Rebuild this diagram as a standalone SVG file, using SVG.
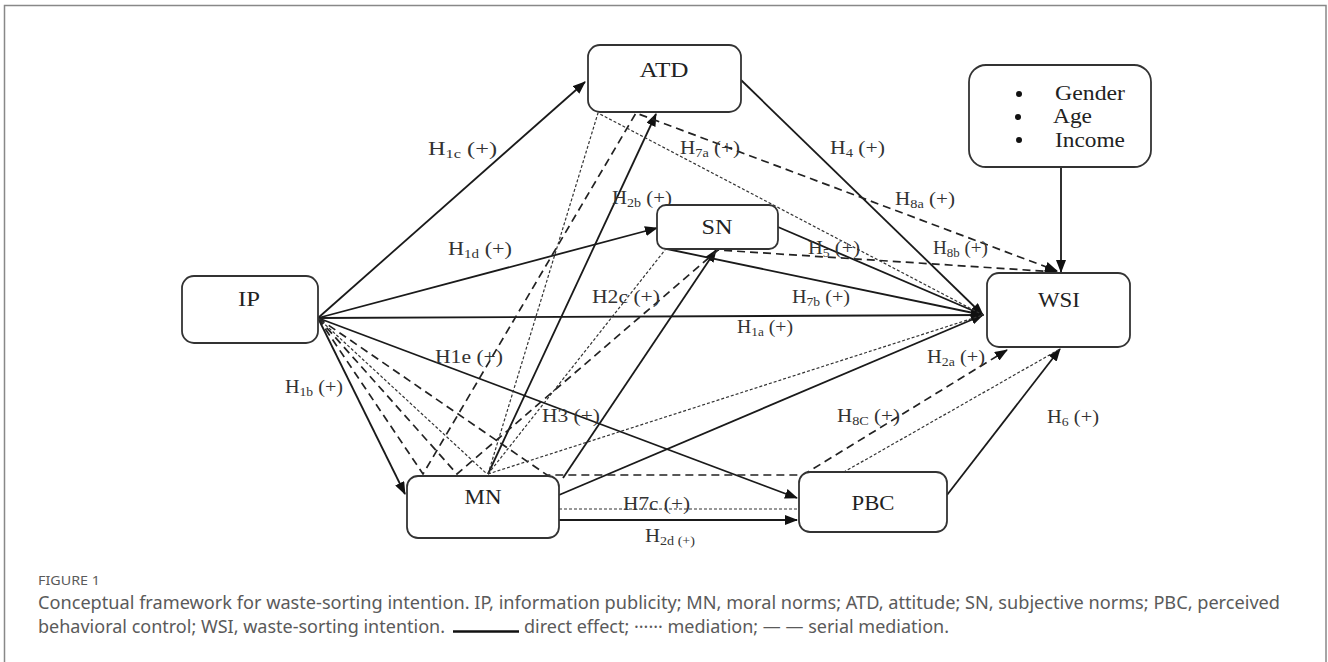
<svg xmlns="http://www.w3.org/2000/svg" width="1328" height="662" viewBox="0 0 1328 662">
<defs>
<marker id="ah" markerUnits="userSpaceOnUse" markerWidth="13" markerHeight="10" refX="12" refY="5" orient="auto">
<path d="M0,0 L13,5 L0,10 z" fill="#111"/>
</marker>
<style>
.frame{fill:#fff;stroke:#888;stroke-width:1.5}
.box{fill:#fff;stroke:#333;stroke-width:1.8}
.nt{font-family:"Liberation Serif",serif;font-size:20px;fill:#222;text-anchor:middle}
.ct{font-family:"Liberation Serif",serif;font-size:20px;fill:#222}
.lbl{font-family:"Liberation Serif",serif;font-size:18.5px;fill:#333}
.sub{font-size:12.5px}
.solid{fill:none;stroke:#1a1a1a;stroke-width:1.8}
.dash{fill:none;stroke:#222;stroke-width:1.7;stroke-dasharray:8 5}
.dot{fill:none;stroke:#333;stroke-width:1.2;stroke-dasharray:3 2}
.cap{font-family:"Noto Sans",sans-serif;fill:#5a5a5a}
</style>
</defs>
<rect class="frame" x="4.5" y="5.5" width="1321.5" height="680"/>

<g id="connectors">
<path class="solid" d="M318,318 L585,82" marker-end="url(#ah)"/>
<path class="solid" d="M318,318 L657,228" marker-end="url(#ah)"/>
<path class="solid" d="M318,318 L983,315" marker-end="url(#ah)"/>
<path class="solid" d="M318,318 L405,494" marker-end="url(#ah)"/>
<path class="solid" d="M318,318 L797,498" marker-end="url(#ah)"/>
<path class="solid" d="M488,474 L656,114" marker-end="url(#ah)"/>
<path class="solid" d="M563,478 L716,250" marker-end="url(#ah)"/>
<path class="solid" d="M559,495 L983,315" marker-end="url(#ah)"/>
<path class="solid" d="M559,520 L797,520" marker-end="url(#ah)"/>
<path class="solid" d="M778,227 L983,315" marker-end="url(#ah)"/>
<path class="solid" d="M667,249 L983,315" marker-end="url(#ah)"/>
<path class="solid" d="M741,80 L983,315" marker-end="url(#ah)"/>
<path class="solid" d="M947,495 L1060,349" marker-end="url(#ah)"/>
<path class="solid" d="M1061,167 L1061,272" marker-end="url(#ah)"/>
<path class="dash" d="M318,318 L423,474 L636,113 L1057,271" marker-end="url(#ah)"/>
<path class="dash" d="M318,318 L457,474 L718,250 L1057,272" marker-end="url(#ah)"/>
<path class="dash" d="M318,318 L547,475 L803,475 L1007,350" marker-end="url(#ah)"/>
<path class="dot" d="M318,318 L487,474"/>
<path class="dot" d="M488,474 L598,113 L983,315"/>
<path class="dot" d="M488,474 L665,250"/>
<path class="dot" d="M488,474 L983,315"/>
<path class="dot" d="M559,509 L799,509"/>
<path class="dot" d="M800,497 L1060,349"/>
</g>

<g id="labels">
<text class="lbl" x="428" y="155" textLength="69" lengthAdjust="spacingAndGlyphs">H<tspan class="sub" dy="3">1c</tspan><tspan dy="-3"> (+)</tspan></text>
<text class="lbl" x="448" y="255" textLength="64" lengthAdjust="spacingAndGlyphs">H<tspan class="sub" dy="3">1d</tspan><tspan dy="-3"> (+)</tspan></text>
<text class="lbl" x="680" y="154" textLength="60" lengthAdjust="spacingAndGlyphs">H<tspan class="sub" dy="3">7a</tspan><tspan dy="-3"> (+)</tspan></text>
<text class="lbl" x="830" y="154" textLength="55" lengthAdjust="spacingAndGlyphs">H<tspan class="sub" dy="3">4</tspan><tspan dy="-3"> (+)</tspan></text>
<text class="lbl" x="895" y="205" textLength="60" lengthAdjust="spacingAndGlyphs">H<tspan class="sub" dy="3">8a</tspan><tspan dy="-3"> (+)</tspan></text>
<text class="lbl" x="612" y="204" textLength="60" lengthAdjust="spacingAndGlyphs">H<tspan class="sub" dy="3">2b</tspan><tspan dy="-3"> (+)</tspan></text>
<text class="lbl" x="808" y="254" textLength="52" lengthAdjust="spacingAndGlyphs">H<tspan class="sub" dy="3">5</tspan><tspan dy="-3"> (+)</tspan></text>
<text class="lbl" x="933" y="254" textLength="55" lengthAdjust="spacingAndGlyphs">H<tspan class="sub" dy="3">8b</tspan><tspan dy="-3"> (+)</tspan></text>
<text class="lbl" x="592" y="303" textLength="68" lengthAdjust="spacingAndGlyphs">H2c (+)</text>
<text class="lbl" x="792" y="303" textLength="58" lengthAdjust="spacingAndGlyphs">H<tspan class="sub" dy="3">7b</tspan><tspan dy="-3"> (+)</tspan></text>
<text class="lbl" x="737" y="333" textLength="56" lengthAdjust="spacingAndGlyphs">H<tspan class="sub" dy="3">1a</tspan><tspan dy="-3"> (+)</tspan></text>
<text class="lbl" x="927" y="363" textLength="58" lengthAdjust="spacingAndGlyphs">H<tspan class="sub" dy="3">2a</tspan><tspan dy="-3"> (+)</tspan></text>
<text class="lbl" x="435" y="363" textLength="68" lengthAdjust="spacingAndGlyphs">H1e (+)</text>
<text class="lbl" x="285" y="393" textLength="58" lengthAdjust="spacingAndGlyphs">H<tspan class="sub" dy="3">1b</tspan><tspan dy="-3"> (+)</tspan></text>
<text class="lbl" x="542" y="422" textLength="58" lengthAdjust="spacingAndGlyphs">H3 (+)</text>
<text class="lbl" x="837" y="422" textLength="63" lengthAdjust="spacingAndGlyphs">H<tspan class="sub" dy="3">8C</tspan><tspan dy="-3"> (+)</tspan></text>
<text class="lbl" x="1047" y="423" textLength="52" lengthAdjust="spacingAndGlyphs">H<tspan class="sub" dy="3">6</tspan><tspan dy="-3"> (+)</tspan></text>
<text class="lbl" x="623" y="510" textLength="67" lengthAdjust="spacingAndGlyphs">H7c (+)</text>
<text class="lbl" x="645" y="542" textLength="50" lengthAdjust="spacingAndGlyphs">H<tspan class="sub" dy="3">2d (+)</tspan></text>
</g>

<g id="ATD"><rect class="box" x="588" y="45" width="153" height="67" rx="12"/><text class="nt" x="664" y="77" textLength="49" lengthAdjust="spacingAndGlyphs">ATD</text></g>
<g id="SN"><rect class="box" x="657" y="205" width="121" height="44" rx="9"/><text class="nt" x="717" y="234" textLength="31" lengthAdjust="spacingAndGlyphs">SN</text></g>
<g id="IP"><rect class="box" x="182" y="276" width="136" height="67" rx="12"/><text class="nt" x="249" y="306" textLength="22" lengthAdjust="spacingAndGlyphs">IP</text></g>
<g id="WSI"><rect class="box" x="987" y="273" width="143" height="74" rx="12"/><text class="nt" x="1059" y="307" textLength="42" lengthAdjust="spacingAndGlyphs">WSI</text></g>
<g id="MN"><rect class="box" x="407" y="476" width="152" height="62" rx="11"/><text class="nt" x="483" y="504" textLength="37" lengthAdjust="spacingAndGlyphs">MN</text></g>
<g id="PBC"><rect class="box" x="799" y="472" width="148" height="60" rx="11"/><text class="nt" x="873" y="510" textLength="43" lengthAdjust="spacingAndGlyphs">PBC</text></g>
<g id="Controls"><rect class="box" x="969" y="65" width="182" height="102" rx="17"/>
<circle cx="1019" cy="94" r="3" fill="#111"/><circle cx="1018" cy="117" r="3" fill="#111"/><circle cx="1019" cy="140" r="3" fill="#111"/>
<text class="ct" x="1055" y="100" textLength="70" lengthAdjust="spacingAndGlyphs">Gender</text><text class="ct" x="1053" y="123" textLength="39" lengthAdjust="spacingAndGlyphs">Age</text><text class="ct" x="1055" y="147" textLength="70" lengthAdjust="spacingAndGlyphs">Income</text></g>

<g id="caption">
<text class="cap" x="38" y="585" font-size="13" textLength="62" lengthAdjust="spacingAndGlyphs">FIGURE 1</text>
<text class="cap" x="38" y="609" font-size="18" textLength="1242" lengthAdjust="spacingAndGlyphs">Conceptual framework for waste-sorting intention. IP, information publicity; MN, moral norms; ATD, attitude; SN, subjective norms; PBC, perceived</text>
<text class="cap" x="38" y="633" font-size="18" textLength="407" lengthAdjust="spacingAndGlyphs">behavioral control; WSI, waste-sorting intention.</text>
<line x1="453" y1="631.5" x2="519" y2="631.5" stroke="#111" stroke-width="2.5"/>
<text class="cap" x="524" y="633" font-size="18" textLength="425" lengthAdjust="spacingAndGlyphs">direct effect; ······ mediation; — — serial mediation.</text>
</g>
</svg>
